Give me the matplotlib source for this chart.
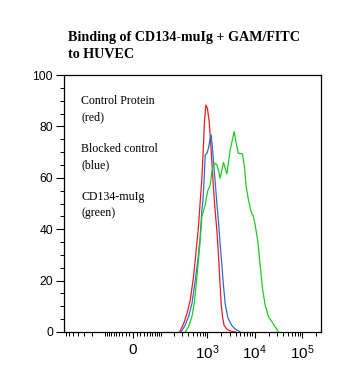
import numpy as np
import matplotlib
matplotlib.use("Agg")
import matplotlib.pyplot as plt
from matplotlib.ticker import FixedLocator, NullFormatter

plt.rcParams['font.family'] = ['Liberation Sans', 'DejaVu Sans']
plt.rcParams['mathtext.default'] = 'regular'

# histogram traces (fluorescence, % of max)
red_x = [260, 320, 375, 440, 515, 559, 607, 656, 712, 773, 836, 877, 939, 1015,
         1102, 1157, 1256, 1357, 1474, 1608, 1729, 1851, 1971, 2120, 2280, 2637,
         3201, 3886]
red_y = [0, 3.4, 7.3, 12.5, 21.5, 28, 34.6, 41, 50.7, 59.8, 72.8, 81.8, 88.3, 87,
         81.8, 76.7, 66.3, 55.9, 47, 39, 30, 20, 11, 5.5, 2.5, 1, 0.3, 0]

blue_x = [280, 344, 404, 476, 559, 637, 712, 773, 812, 865, 908, 986, 1065, 1157,
          1214, 1293, 1357, 1474, 1600, 1746, 1878, 2040, 2204, 2393, 2728, 3311,
          3886, 4951]
blue_y = [0, 2.7, 6, 11, 20, 28, 37, 47.5, 50.7, 59.8, 68.9, 69.5, 71.5, 75.4,
          76.7, 71.5, 66.3, 58.5, 50, 42, 34, 26, 18, 11, 5.5, 2.5, 1.2, 0]

green_x = [344, 404, 476, 532, 607, 656, 712, 773, 908, 1015, 1157, 1256, 1357,
           1510, 1600, 1729, 1878, 2204, 2598, 3050, 3700, 4078, 4560, 5536, 6100,
           6622, 7400, 8440, 9430, 10240, 11680, 13050, 14590, 16630, 19520, 23030,
           27000, 31700]
green_y = [0, 2, 6, 11, 21.5, 28, 35.8, 44.9, 49.4, 54.6, 57.2, 62.4, 65, 65.6, 65,
           63, 59.8, 66, 61.5, 70.8, 78, 73.4, 69.5, 69.3, 64.3, 56.5, 51.4, 46.8,
           44.9, 41.6, 35.1, 26, 17, 10.5, 6, 4, 2, 0]

x_major = [0, 1000, 10000, 100000]
x_labels = ['0', '$10^{3}$', '$10^{4}$', '$10^{5}$']
x_minor = ([-v for v in range(100, 800, 100)] + [-v for v in range(10, 100, 10)]
           + list(range(10, 100, 10)) + list(range(100, 1000, 100))
           + list(range(2000, 10000, 1000)) + list(range(20000, 100000, 10000))
           + [200000])

legend_lines = ['Control Protein', '(red)', 'Blocked control', '(blue)',
                'CD134-muIg', '(green)']
legend_rows = [101, 117, 149, 165, 197, 213]

fig = plt.figure(figsize=(3.47, 3.79), dpi=100)
ax = fig.add_axes([64/347, 47/379, 257/347, 257/379])

ax.plot(red_x, red_y, color='#ee1c1c', lw=0.9)
ax.plot(blue_x, blue_y, color='#2a6fd8', lw=0.9)
ax.plot(green_x, green_y, color='#1fcc1f', lw=0.9)

ax.set_xscale('asinh', linear_width=55)
ax.set_xlim(-779, 249000)
ax.set_ylim(0, 100)

ax.xaxis.set_major_locator(FixedLocator(x_major))
ax.set_xticklabels(x_labels, fontsize=11)
ax.xaxis.set_minor_locator(FixedLocator(x_minor))
ax.xaxis.set_minor_formatter(NullFormatter())
ax.set_yticks(np.arange(0, 101, 20))
ax.set_yticks(np.arange(0, 101, 5), minor=True)
ax.tick_params(axis='y', labelsize=8.7)
ax.tick_params(which='major', direction='out', length=6, width=0.8, pad=2)
ax.tick_params(which='minor', direction='out', length=3, width=0.7)
ax.tick_params(axis='x', which='major', length=4, pad=4)
for s in ax.spines.values():
    s.set_linewidth(0.9)

for txt, row in zip(legend_lines, legend_rows):
    ax.text(17/257, (332 - row)/257, txt, transform=ax.transAxes,
            family='Liberation Serif', fontsize=8.6, va='center', ha='left')

fig.text(68/347, 1 - 31/379, 'Binding of CD134-muIg + GAM/FITC\nto HUVEC',
         family='Liberation Serif', fontweight='bold', fontsize=10.2,
         va='top', ha='left', linespacing=1.45)

fig.savefig('out.png', dpi=100)
